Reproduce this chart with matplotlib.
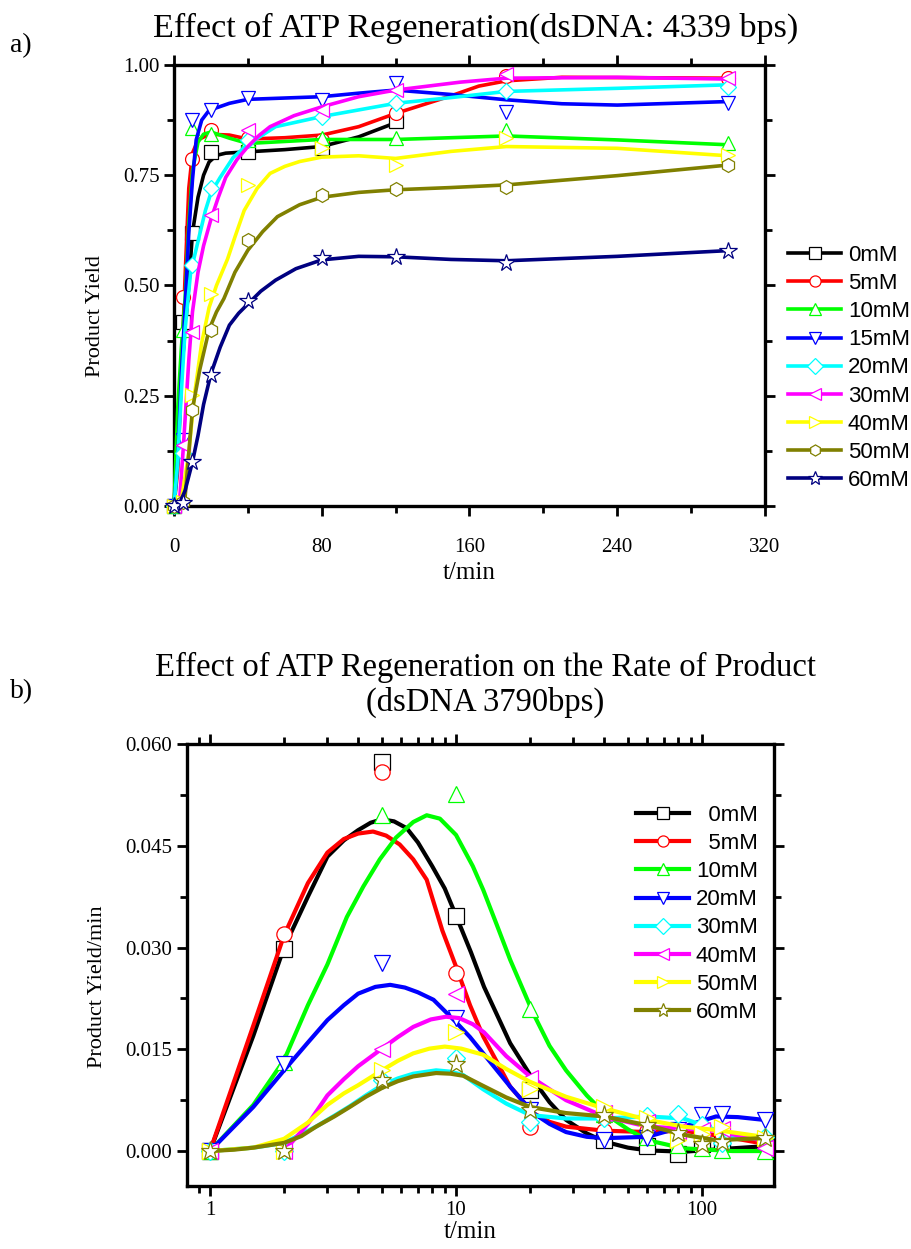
import numpy as np
import matplotlib
matplotlib.use("Agg")
import matplotlib.pyplot as plt
from matplotlib.lines import Line2D
from matplotlib.ticker import MultipleLocator, LogLocator, FixedLocator, FormatStrFormatter, NullFormatter

nan = np.nan

# ---------------- panel a: yield vs time (dsDNA 4339 bps) ----------------
labels_a = ["0mM", "5mM", "10mM", "15mM", "20mM", "30mM", "40mM", "50mM", "60mM"]
colors_a = ["#000000", "#FF0000", "#00FF00", "#0000FF", "#00FFFF", "#FF00FF", "#FFFF00", "#808000", "#000080"]
markers_a = ["s", "o", "^", "v", "D", "<", ">", "h", "*"]

t_a = [0, 5, 10, 20, 40, 80, 120, 180, 300]
y_a_0 = [0, 0.418, 0.619, 0.803, 0.803, 0.811, 0.872, nan, nan]
y_a_5 = [0, 0.474, 0.786, 0.853, 0.835, 0.830, 0.890, 0.975, 0.970]
y_a_10 = [0, 0.399, 0.856, 0.843, 0.830, 0.834, 0.834, 0.853, 0.822]
y_a_15 = [0, 0.150, 0.875, 0.898, 0.926, 0.921, 0.958, 0.894, 0.913]
y_a_20 = [0, 0.120, 0.546, 0.721, 0.830, 0.883, 0.913, 0.942, 0.951]
y_a_30 = [0, 0.138, 0.395, 0.660, 0.853, 0.898, 0.943, 0.980, 0.970]
y_a_40 = [0, 0.010, 0.252, 0.480, 0.728, 0.811, 0.773, 0.835, 0.796]
y_a_50 = [0, 0.010, 0.218, 0.399, 0.603, 0.705, 0.718, 0.724, 0.773]
y_a_60 = [0, 0.007, 0.100, 0.297, 0.465, 0.562, 0.565, 0.550, 0.579]

# smoothed fit lines
fit_a_t_0 = [0, 2, 4, 6, 8, 10, 13, 16, 19, 23, 28, 40, 60, 80, 100, 120]
fit_a_v_0 = [0, 0.15, 0.30, 0.40, 0.50, 0.62, 0.70, 0.75, 0.78, 0.795, 0.80, 0.803, 0.808, 0.815, 0.837, 0.869]
fit_a_t_5 = [0, 2, 4, 6, 8, 10, 13, 19, 30, 40, 60, 80, 100, 120, 150, 165, 180, 210, 300]
fit_a_v_5 = [0, 0.08, 0.30, 0.52, 0.72, 0.80, 0.83, 0.843, 0.841, 0.832, 0.835, 0.841, 0.86, 0.89, 0.93, 0.952, 0.964, 0.972, 0.970]
fit_a_t_10 = [0, 2, 4, 6, 8, 10, 13, 16, 20, 30, 40, 80, 120, 180, 240, 300]
fit_a_v_10 = [0, 0.22, 0.36, 0.47, 0.64, 0.76, 0.825, 0.843, 0.848, 0.834, 0.822, 0.831, 0.831, 0.839, 0.830, 0.819]
fit_a_t_15 = [0, 2, 4, 6, 8, 10, 12, 15, 19, 30, 40, 80, 100, 120, 150, 180, 210, 240, 300]
fit_a_v_15 = [0, 0.10, 0.30, 0.45, 0.62, 0.74, 0.83, 0.875, 0.897, 0.913, 0.922, 0.928, 0.936, 0.943, 0.933, 0.921, 0.912, 0.909, 0.917]
fit_a_t_20 = [0, 2, 4, 6, 9, 13, 17, 20, 25, 32, 40, 55, 80, 120, 150, 180, 240, 300]
fit_a_v_20 = [0, 0.10, 0.26, 0.40, 0.53, 0.60, 0.67, 0.71, 0.745, 0.79, 0.82, 0.86, 0.883, 0.913, 0.926, 0.940, 0.947, 0.955]
fit_a_t_30 = [0, 3, 5, 8, 10, 13, 16, 20, 24, 28, 34, 40, 46, 52, 65, 80, 100, 120, 155, 180, 240, 300]
fit_a_v_30 = [0, 0.01, 0.13, 0.33, 0.44, 0.53, 0.59, 0.65, 0.70, 0.745, 0.785, 0.815, 0.84, 0.86, 0.885, 0.905, 0.928, 0.943, 0.961, 0.970, 0.972, 0.968]
fit_a_t_40 = [0, 4, 8, 11, 15, 19, 23, 29, 33, 38, 45, 52, 60, 68, 80, 100, 120, 150, 180, 240, 300]
fit_a_v_40 = [0, 0.014, 0.12, 0.25, 0.37, 0.45, 0.50, 0.56, 0.61, 0.67, 0.72, 0.754, 0.77, 0.781, 0.791, 0.794, 0.788, 0.804, 0.815, 0.811, 0.794]
fit_a_t_50 = [0, 3, 6, 10, 14, 19, 23, 27, 33, 40, 48, 56, 68, 80, 100, 120, 150, 180, 240, 300]
fit_a_v_50 = [0, 0.003, 0.02, 0.22, 0.31, 0.40, 0.44, 0.47, 0.53, 0.58, 0.622, 0.656, 0.683, 0.70, 0.711, 0.717, 0.722, 0.728, 0.749, 0.773]
fit_a_t_60 = [0, 3, 6, 10, 13, 16, 20, 25, 30, 35, 40, 47, 55, 66, 80, 100, 120, 150, 180, 240, 300]
fit_a_v_60 = [0, 0.005, 0.035, 0.10, 0.16, 0.23, 0.30, 0.36, 0.41, 0.437, 0.458, 0.487, 0.512, 0.538, 0.558, 0.566, 0.565, 0.559, 0.556, 0.566, 0.579]

# ---------------- panel b: rate vs time (dsDNA 3790 bps) ----------------
labels_b = ["\u20070mM", "\u20075mM", "10mM", "20mM", "30mM", "40mM", "50mM", "60mM"]
colors_b = ["#000000", "#FF0000", "#00FF00", "#0000FF", "#00FFFF", "#FF00FF", "#FFFF00", "#808000"]
markers_b = ["s", "o", "^", "v", "D", "<", ">", "*"]

t_b = [1, 2, 5, 10, 20, 40, 60, 80, 100, 120, 180]
r_b_0 = [0, 0.0298, 0.0573, 0.0346, 0.0090, 0.0016, 0.0008, -0.0004, 0.0010, 0.0015, 0.0012]
r_b_5 = [0, 0.0320, 0.0559, 0.0262, 0.0036, 0.0030, 0.0030, 0.0030, 0.0035, 0.0025, 0.0012]
r_b_10 = [0, 0.0132, 0.0495, 0.0527, 0.0210, 0.0055, 0.0020, 0.0009, 0.0005, 0.0001, 0.0000]
r_b_20 = [0, 0.0129, 0.0277, 0.0196, 0.0060, 0.0016, 0.0019, 0.0031, 0.0053, 0.0055, 0.0046]
r_b_30 = [0, 0, 0.0105, 0.0137, 0.0043, 0.0048, 0.0051, 0.0054, 0.0038, 0.0012, 0.0021]
r_b_40 = [0, 0, 0.0151, 0.0232, 0.0107, 0.0056, 0.0043, 0.0030, 0.0031, 0.0033, 0.0004]
r_b_50 = [0, 0, 0.0119, 0.0176, 0.0092, 0.0065, 0.0049, 0.0016, 0.0025, 0.0036, 0.0019]
r_b_60 = [0, 0, 0.0105, 0.0129, 0.0060, 0.0053, 0.0038, 0.0026, 0.0011, 0.0014, 0.0019]

fit_b_t_0 = [1, 1.5, 2, 2.5, 3, 3.5, 4, 4.5, 5, 5.6, 6.3, 7, 8, 9, 10, 11.5, 13, 16.6, 20.6, 24, 28, 34, 40, 50, 60, 84, 133, 178]
fit_b_v_0 = [0, 0.017, 0.0300, 0.0375, 0.0434, 0.0458, 0.0473, 0.0484, 0.0489, 0.0486, 0.0476, 0.0455, 0.0420, 0.0387, 0.0347,
             0.0293, 0.0242, 0.0159, 0.0105, 0.0072, 0.0046, 0.0026, 0.0014, 0.0005, 0.0001, -0.0001, 0.0004, 0.0007]
fit_b_t_5 = [1, 1.5, 2, 2.5, 3, 3.5, 4, 4.6, 5.2, 5.9, 6.7, 7.6, 8.8, 10, 11.4, 12.9, 16.6, 20.6, 24, 28, 40, 60, 84, 120, 178]
fit_b_v_5 = [0, 0.0185, 0.0318, 0.0395, 0.0440, 0.0460, 0.0468, 0.0471, 0.0465, 0.0452, 0.0430, 0.0400, 0.0325, 0.0272,
             0.0215, 0.0169, 0.0095, 0.0056, 0.0043, 0.0036, 0.0030, 0.0028, 0.0030, 0.0022, 0.0011]
fit_b_t_10 = [1, 1.5, 2, 2.5, 3, 3.6, 4.2, 4.9, 5.7, 6.7, 7.6, 8.6, 10, 11.7, 12.9, 14.7, 16.6, 20.6, 24, 28, 34, 40, 50, 60, 84, 133, 178]
fit_b_v_10 = [0, 0.0068, 0.0134, 0.0215, 0.0275, 0.0345, 0.0390, 0.0430, 0.0462, 0.0485, 0.0495, 0.0490, 0.0466, 0.0420,
              0.0385, 0.0332, 0.0282, 0.0203, 0.0155, 0.0119, 0.0082, 0.0056, 0.0032, 0.0016, 0.0004, 0.0000, 0.0000]
fit_b_t_20 = [1, 1.5, 2, 2.5, 3, 3.5, 4, 4.7, 5.4, 6.2, 7, 8.1, 10, 11.4, 12.9, 16.6, 20.6, 24, 28, 34, 40, 60, 84, 114, 140, 178]
fit_b_v_20 = [0, 0.0065, 0.0119, 0.0160, 0.0193, 0.0215, 0.0232, 0.0242, 0.0245, 0.0241, 0.0234, 0.0223, 0.0190, 0.0168,
              0.0144, 0.0095, 0.0056, 0.0040, 0.0028, 0.0021, 0.0019, 0.0021, 0.0036, 0.0051, 0.0050, 0.0046]
fit_b_t_30 = [1, 1.5, 2, 2.7, 3.2, 3.7, 4.3, 5, 5.8, 6.7, 8.3, 9.5, 10.7, 12.9, 16, 20, 28, 40, 60, 84, 104, 133, 178]
fit_b_v_30 = [0, 0.0005, 0.0012, 0.0036, 0.0052, 0.0066, 0.0082, 0.0097, 0.0107, 0.0114, 0.0119, 0.0117, 0.0112, 0.0091,
              0.0070, 0.0053, 0.0048, 0.0048, 0.0051, 0.0048, 0.0036, 0.0022, 0.0021]
fit_b_t_40 = [2, 2.5, 3, 3.5, 4, 5, 5.8, 6.7, 7.9, 9.1, 10.3, 11.7, 13, 16, 20, 28, 40, 60, 84, 114, 178]
fit_b_v_40 = [0, 0.0040, 0.0082, 0.0106, 0.0125, 0.0151, 0.0168, 0.0183, 0.0194, 0.0198, 0.0196, 0.0187, 0.0175, 0.0140,
              0.0110, 0.0075, 0.0051, 0.0036, 0.0033, 0.0030, 0.0015]
fit_b_t_50 = [1, 1.5, 2, 2.5, 3, 3.5, 4, 5, 5.8, 6.7, 7.8, 9, 10.5, 12.9, 16, 20, 28, 40, 60, 84, 114, 178]
fit_b_v_50 = [0, 0.0005, 0.0018, 0.0042, 0.0068, 0.0085, 0.0097, 0.0119, 0.0133, 0.0144, 0.0151, 0.0154, 0.0151, 0.0142,
              0.0121, 0.0102, 0.0080, 0.0063, 0.0046, 0.0036, 0.0031, 0.0021]
fit_b_t_60 = [1, 1.25, 1.5, 2, 2.35, 2.7, 3.2, 3.7, 4.3, 5, 5.8, 6.7, 8.3, 9.5, 10.7, 12.9, 16, 20, 28, 40, 60, 84, 114, 178]
fit_b_v_60 = [0, 0.0002, 0.0005, 0.0012, 0.0022, 0.0036, 0.0051, 0.0065, 0.0080, 0.0093, 0.0103, 0.0110, 0.0115, 0.0114,
              0.0111, 0.0096, 0.0079, 0.0065, 0.0056, 0.0051, 0.0038, 0.0024, 0.0016, 0.0019]

series_a = [y_a_0, y_a_5, y_a_10, y_a_15, y_a_20, y_a_30, y_a_40, y_a_50, y_a_60]
fits_a = [(fit_a_t_0, fit_a_v_0), (fit_a_t_5, fit_a_v_5), (fit_a_t_10, fit_a_v_10),
          (fit_a_t_15, fit_a_v_15), (fit_a_t_20, fit_a_v_20), (fit_a_t_30, fit_a_v_30),
          (fit_a_t_40, fit_a_v_40), (fit_a_t_50, fit_a_v_50), (fit_a_t_60, fit_a_v_60)]
series_b = [r_b_0, r_b_5, r_b_10, r_b_20, r_b_30, r_b_40, r_b_50, r_b_60]
fits_b = [(fit_b_t_0, fit_b_v_0), (fit_b_t_5, fit_b_v_5), (fit_b_t_10, fit_b_v_10),
          (fit_b_t_20, fit_b_v_20), (fit_b_t_30, fit_b_v_30), (fit_b_t_40, fit_b_v_40),
          (fit_b_t_50, fit_b_v_50), (fit_b_t_60, fit_b_v_60)]

SERIF = "Liberation Serif"
SANS = ["Liberation Sans", "DejaVu Sans"]

fig = plt.figure(figsize=(9.12, 12.49), dpi=100)
ax1 = fig.add_axes([0.1908, 0.5949, 0.648, 0.3531])
ax2 = fig.add_axes([0.2050, 0.0504, 0.6436, 0.3539])


def draw(ax, t, ys, fits, colors, markers, lw, ms):
    for i, (y, (ft, fv)) in enumerate(zip(ys, fits)):
        c = colors[i]
        ax.plot(ft, fv, color=c, lw=lw, solid_joinstyle="round", solid_capstyle="round",
                zorder=3 + 2 * i, clip_on=False)
        ms_i = ms * 1.3 if markers[i] == "*" else (ms * 0.85 if markers[i] == "D" else ms)
        ax.plot(t, y, ls="none", marker=markers[i], ms=ms_i, mfc="white", mec=c, mew=0.9,
                zorder=4 + 2 * i, clip_on=False)


def style(ax):
    for s in ax.spines.values():
        s.set_linewidth(2.4)
    ax.tick_params(which="both", direction="out", top=True, right=True, width=2,
                   labelsize=15)
    ax.tick_params(which="major", length=7)
    ax.tick_params(which="minor", length=5)
    for lab in ax.get_xticklabels() + ax.get_yticklabels():
        lab.set_family(SERIF)


# panel a
draw(ax1, t_a, series_a, fits_a, colors_a, markers_a, 2.6, 10)
ax1.set_xlim(0, 320)
ax1.set_ylim(0, 1.0)
ax1.xaxis.set_major_locator(MultipleLocator(80))
ax1.xaxis.set_minor_locator(MultipleLocator(40))
ax1.yaxis.set_major_locator(MultipleLocator(0.25))
ax1.yaxis.set_minor_locator(MultipleLocator(0.125))
ax1.yaxis.set_major_formatter(FormatStrFormatter("%.2f"))
style(ax1)
ax1.tick_params(axis="x", pad=16)
ax1.set_xlabel("t/min", family=SERIF, fontsize=18)
ax1.set_ylabel("Product Yield", family=SERIF, fontsize=16)
ax1.xaxis.set_label_coords(0.5, -0.128)
ax1.yaxis.set_label_coords(-0.117, 0.43)

# panel b
draw(ax2, t_b, series_b, fits_b, colors_b, markers_b, 3.0, 11)
ax2.set_xscale("log")
ax2.set_xlim(0.806, 196)
ax2.set_ylim(-0.00516, 0.060)
ax2.xaxis.set_major_locator(FixedLocator([1, 10, 100]))
ax2.xaxis.set_major_formatter(FormatStrFormatter("%g"))
ax2.xaxis.set_minor_locator(LogLocator(base=10, subs=np.arange(2, 10) / 10.0, numticks=20))
ax2.xaxis.set_minor_formatter(NullFormatter())
ax2.yaxis.set_major_locator(FixedLocator([0, 0.015, 0.030, 0.045, 0.060]))
ax2.yaxis.set_minor_locator(FixedLocator([-0.0075, 0.0075, 0.0225, 0.0375, 0.0525]))
ax2.yaxis.set_major_formatter(FormatStrFormatter("%.3f"))
style(ax2)
ax2.set_xlabel("t/min", family=SERIF, fontsize=18)
ax2.set_ylabel("Product Yield/min", family=SERIF, fontsize=16)
ax2.xaxis.set_label_coords(0.482, -0.08)
ax2.yaxis.set_label_coords(-0.136, 0.45)

# titles and panel letters
fig.text(0.521, 1 - 37 / 1249, "Effect of ATP Regeneration(dsDNA: 4339 bps)", ha="center",
         va="baseline", family=SERIF, fontsize=24.6)
fig.text(0.532, 1 - 676 / 1249, "Effect of ATP Regeneration on the Rate of Product", ha="center",
         va="baseline", family=SERIF, fontsize=23.5)
fig.text(0.532, 1 - 711 / 1249, "(dsDNA 3790bps)", ha="center",
         va="baseline", family=SERIF, fontsize=23.5)
fig.text(10 / 912, 1 - 52 / 1249, "a)", family=SERIF, fontsize=20, va="baseline")
fig.text(10 / 912, 1 - 698 / 1249, "b)", family=SERIF, fontsize=20, va="baseline")


def legend(labels, colors, markers, lw, anchor):
    hs = [Line2D([], [], color=c, lw=lw, marker=m, ms=8 if m != "*" else 10, mfc="white",
                 mec=c, mew=0.9) for c, m in zip(colors, markers)]
    fig.legend(hs, labels, loc="upper left", bbox_to_anchor=anchor, frameon=False,
               prop={"family": SANS, "size": 16}, handlelength=2.4, handletextpad=0.3,
               labelspacing=0.32, borderpad=0, borderaxespad=0)


legend(labels_a, colors_a, markers_a, 2.6, (788 / 912, 1 - 245 / 1249))
legend(labels_b, colors_b, markers_b, 3.0, (636 / 912, 1 - 805 / 1249))

fig.savefig("out.png", dpi=100)
